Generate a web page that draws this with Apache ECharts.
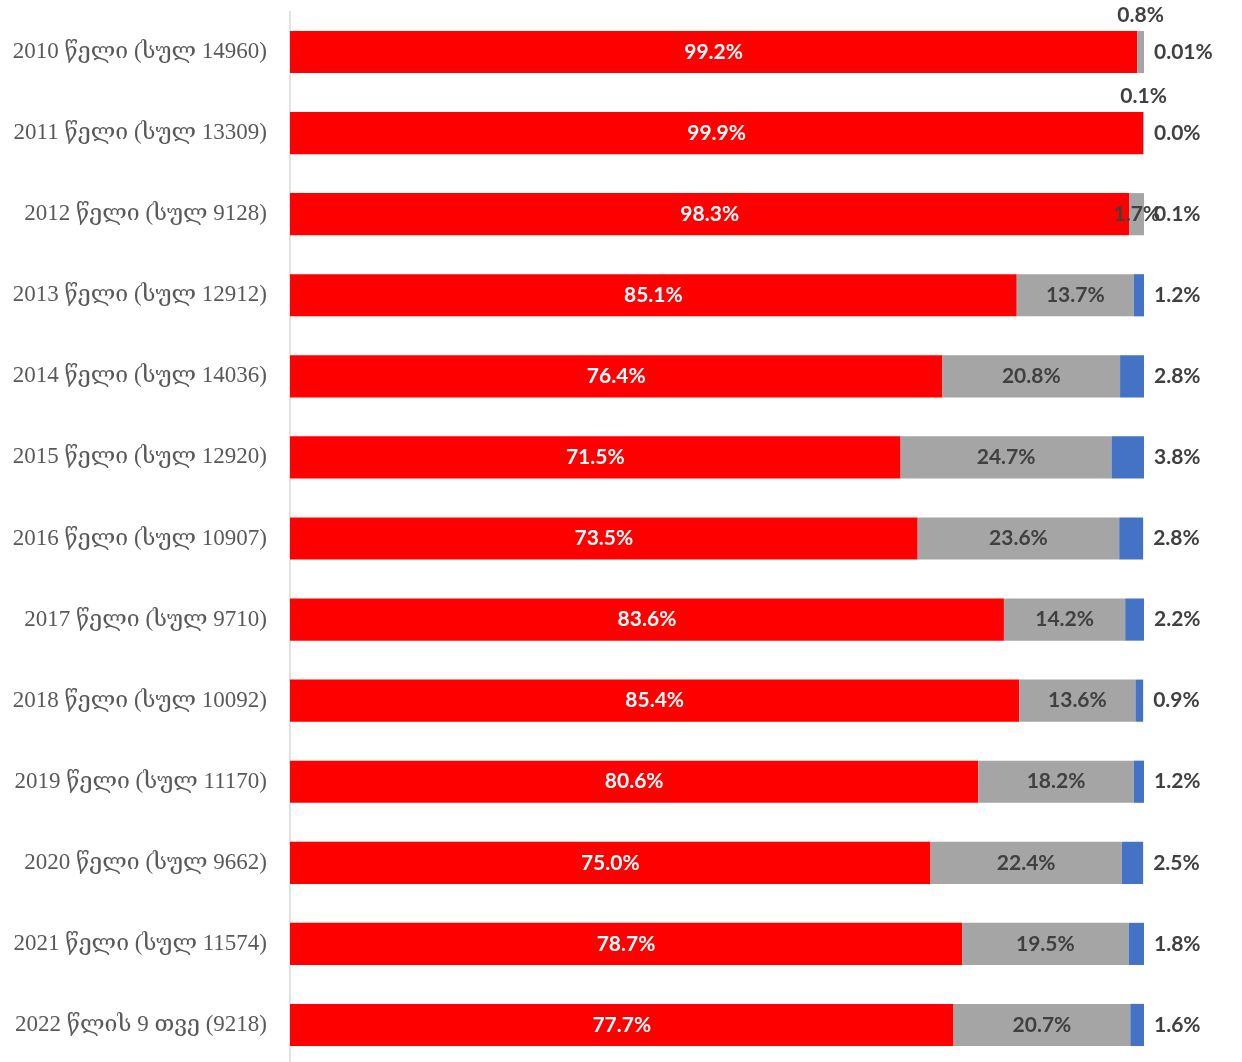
<!DOCTYPE html>
<html>
<head>
<meta charset="utf-8">
<script src="https://cdn.jsdelivr.net/npm/echarts@6/dist/echarts.min.js"></script>
<style>html,body{margin:0;padding:0;background:#fff;overflow:hidden;}#c{width:1242px;height:1070px;}</style>
</head>
<body>
<div id="c"></div>
<script>
const categories = [
  '2010 წელი (სულ 14960)',
  '2011 წელი (სულ 13309)',
  '2012 წელი (სულ 9128)',
  '2013 წელი (სულ 12912)',
  '2014 წელი (სულ 14036)',
  '2015 წელი (სულ 12920)',
  '2016 წელი (სულ 10907)',
  '2017 წელი (სულ 9710)',
  '2018 წელი (სულ 10092)',
  '2019 წელი (სულ 11170)',
  '2020 წელი (სულ 9662)',
  '2021 წელი (სულ 11574)',
  '2022 წლის 9 თვე (9218)'
];
const redValues  = [99.2, 99.9, 98.3, 85.1, 76.4, 71.5, 73.5, 83.6, 85.4, 80.6, 75.0, 78.7, 77.7];
const grayValues = [0.8, 0.1, 1.7, 13.7, 20.8, 24.7, 23.6, 14.2, 13.6, 18.2, 22.4, 19.5, 20.7];
const blueValues = [0.01, 0.0, 0.1, 1.2, 2.8, 3.8, 2.8, 2.2, 0.9, 1.2, 2.5, 1.8, 1.6];

function fmt(v) {
  return (v > 0 && v < 0.1 ? v.toFixed(2) : v.toFixed(1)) + '%';
}
const labelFont = { fontFamily: 'Lato, "Open Sans", sans-serif', fontWeight: 'bold', fontSize: 21 };

const chart = echarts.init(document.getElementById('c'));
chart.setOption({
  animation: false,
  grid: { left: 290, right: 98, top: 11.5, bottom: 4.5, containLabel: false },
  xAxis: { type: 'value', min: 0, max: 100, show: false },
  yAxis: {
    type: 'category', data: categories, inverse: true,
    axisLine: { show: true, lineStyle: { color: '#d9d9d9', width: 1.5 } },
    axisTick: { show: false },
    axisLabel: { color: '#595959', fontSize: 23, margin: 23, fontFamily: '"Liberation Serif", "DejaVu Serif", serif' }
  },
  series: [
    {
      name: 'red', type: 'bar', stack: 't', barWidth: '52%',
      itemStyle: { color: '#FF0000' },
      data: redValues,
      label: Object.assign({ show: true, position: 'inside', color: '#ffffff', formatter: p => fmt(p.value) }, labelFont)
    },
    {
      name: 'gray', type: 'bar', stack: 't',
      itemStyle: { color: '#A5A5A5' },
      data: grayValues.map(v => v < 1 ? { value: v, label: { position: 'top', distance: 5 } } : v),
      label: Object.assign({ show: true, position: 'inside', color: '#404040', formatter: p => fmt(p.value) }, labelFont)
    },
    {
      name: 'blue', type: 'bar', stack: 't',
      itemStyle: { color: '#4472C4' },
      data: blueValues,
      label: Object.assign({ show: true, position: 'right', distance: 10, color: '#404040', formatter: p => fmt(p.value) }, labelFont)
    }
  ]
});
</script>
</body>
</html>
